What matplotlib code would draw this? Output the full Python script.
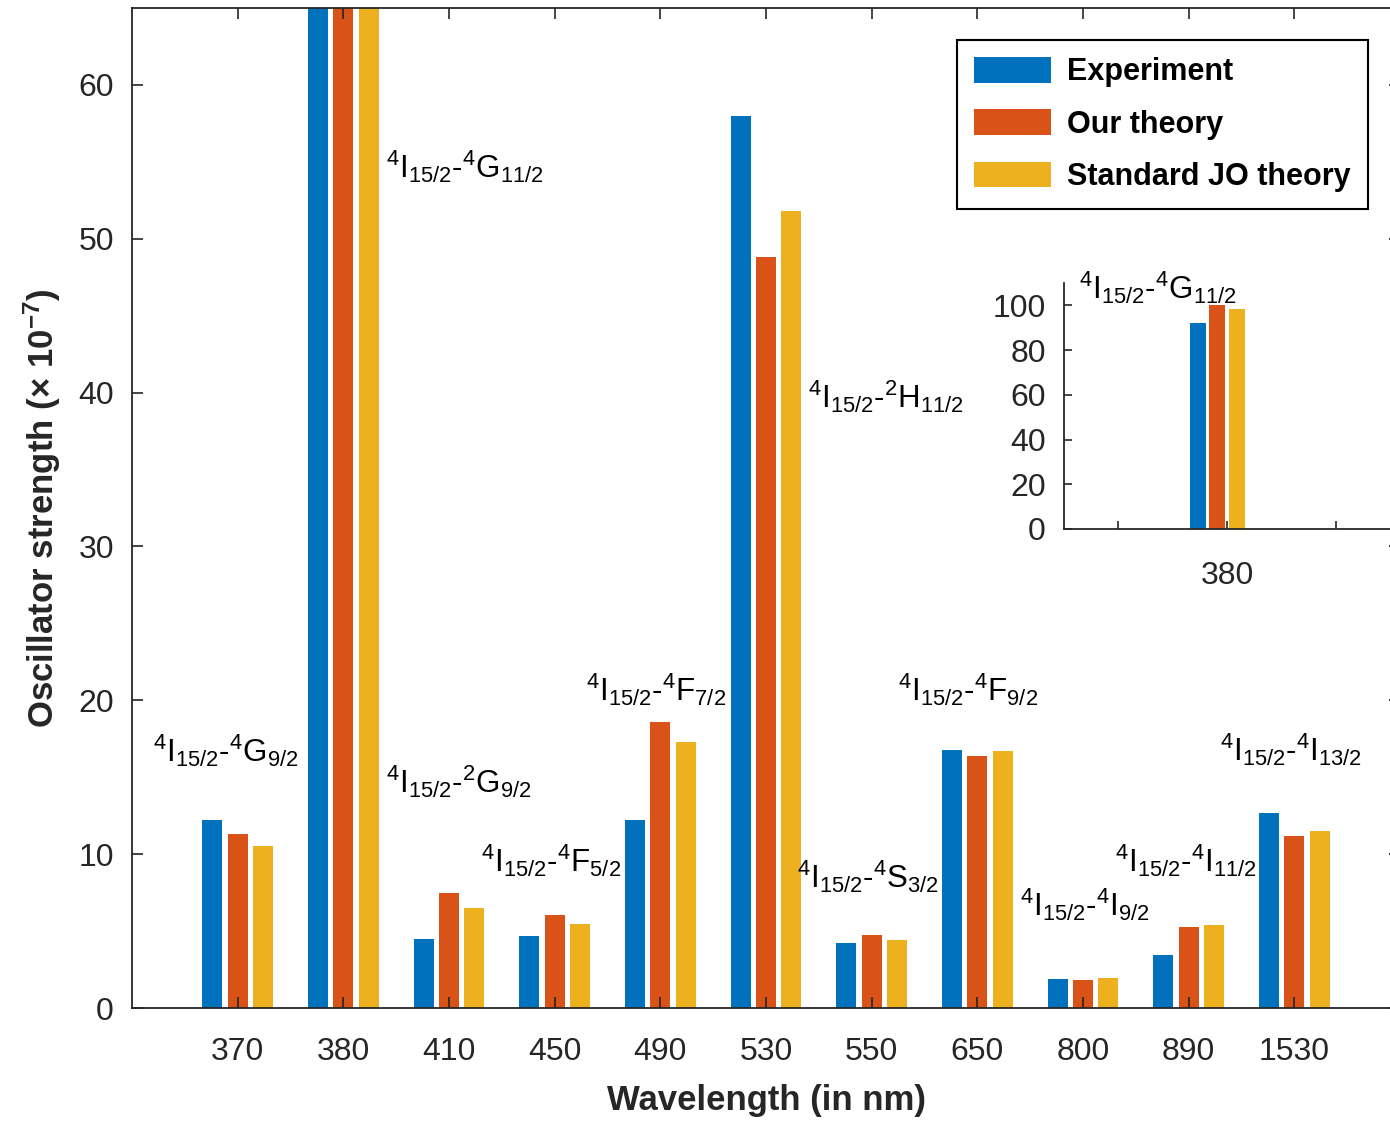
import numpy as np
import matplotlib
matplotlib.use('Agg')
import matplotlib.pyplot as plt

plt.rcParams['font.family'] = 'Liberation Sans'
plt.rcParams['mathtext.default'] = 'regular'

# oscillator strengths (x 1e-7) for each absorption band
wavelengths = ['370', '380', '410', '450', '490', '530', '550', '650', '800', '890', '1530']
experiment = [12.2, 92.0, 4.5, 4.7, 12.2, 58.0, 4.2, 16.8, 1.9, 3.45, 12.7]
our_theory = [11.3, 100.4, 7.5, 6.05, 18.6, 48.85, 4.75, 16.35, 1.8, 5.25, 11.15]
standard_jo = [10.5, 98.2, 6.5, 5.45, 17.3, 51.8, 4.4, 16.7, 1.97, 5.4, 11.5]
series_names = ['Experiment', 'Our theory', 'Standard JO theory']

transitions = [r'$^4$I$_{15/2}$-$^4$G$_{9/2}$',
               r'$^4$I$_{15/2}$-$^4$G$_{11/2}$',
               r'$^4$I$_{15/2}$-$^2$G$_{9/2}$',
               r'$^4$I$_{15/2}$-$^4$F$_{5/2}$',
               r'$^4$I$_{15/2}$-$^4$F$_{7/2}$',
               r'$^4$I$_{15/2}$-$^2$H$_{11/2}$',
               r'$^4$I$_{15/2}$-$^4$S$_{3/2}$',
               r'$^4$I$_{15/2}$-$^4$F$_{9/2}$',
               r'$^4$I$_{15/2}$-$^4$I$_{9/2}$',
               r'$^4$I$_{15/2}$-$^4$I$_{11/2}$',
               r'$^4$I$_{15/2}$-$^4$I$_{13/2}$']
# where each transition label sits (x, y in data units, left aligned)
label_pos = [(0.20, 16.7), (2.40, 54.7), (2.40, 14.7), (3.30, 9.6), (4.30, 20.7),
             (6.40, 39.7), (6.29, 8.5), (7.25, 20.7), (8.40, 6.7), (9.30, 9.6),
             (10.30, 16.8)]

colors = ['#0072BD', '#D95319', '#EDB120']
dark = '#262626'

fig = plt.figure(figsize=(13.9, 11.21), dpi=100)
ax = fig.add_axes([0.095, 0.1008, 0.9122, 0.892])

x = np.arange(1, len(wavelengths) + 1)
offsets = [-0.24, 0, 0.24]
for vals, off, c, name in zip([experiment, our_theory, standard_jo], offsets, colors, series_names):
    ax.bar(x + off, vals, width=0.19, color=c, label=name, linewidth=0)

ax.set_xlim(0, 12)
ax.set_ylim(0, 65)
ax.set_xticks(x)
ax.set_xticklabels(wavelengths)
ax.set_yticks(np.arange(0, 61, 10))
ax.tick_params(direction='in', top=True, right=True, length=8, width=1.2,
               labelsize=23, colors=dark, labelcolor=dark)
ax.tick_params(axis='x', pad=21)
ax.tick_params(axis='y', pad=13)
for s in ax.spines.values():
    s.set_color(dark)
    s.set_linewidth(1.3)

ax.set_xlabel('Wavelength (in nm)', fontsize=25, fontweight='bold', color=dark, labelpad=12)
ax.set_ylabel(r'Oscillator strength ($\times$ 10$^{-7}$)', fontsize=25, fontweight='bold',
              color=dark, labelpad=11)

for txt, (tx, ty) in zip(transitions, label_pos):
    ax.text(tx, ty, txt, fontsize=22.5, ha='left', va='center', color='black')

leg = ax.legend(loc='upper right', bbox_to_anchor=(0.9747, 0.968), borderaxespad=0,
                prop={'weight': 'bold', 'size': 22}, fancybox=False,
                framealpha=1, edgecolor='black', handlelength=2.5, handleheight=0.92,
                handletextpad=0.55, labelspacing=0.72, borderpad=0.55)
leg.get_frame().set_linewidth(1.5)

# inset with the full 380 nm band
ins = fig.add_axes([0.7655, 0.5281, 0.2345, 0.2194])
i = 1
for vals, off, c in zip([experiment, our_theory, standard_jo], [-0.18, 0, 0.18], colors):
    ins.bar(1.91 + off, vals[i], width=0.148, color=c, linewidth=0)
ins.set_xlim(0.5, 3.5)
ins.set_ylim(0, 110)
ins.set_xticks([1, 2, 3])
ins.set_xticklabels(['', wavelengths[i], ''])
ins.set_yticks(np.arange(0, 101, 20))
ins.tick_params(direction='in', length=6, width=1.2, labelsize=23, colors=dark, labelcolor=dark)
ins.tick_params(axis='x', pad=23)
ins.tick_params(axis='y', pad=13)
ins.spines['top'].set_visible(False)
ins.spines['right'].set_visible(False)
for s in ['left', 'bottom']:
    ins.spines[s].set_color(dark)
    ins.spines[s].set_linewidth(1.3)
ins.text(0.64, 107.7, transitions[i], fontsize=22.5, ha='left', va='center', color='black')

fig.savefig('out.png', dpi=100)
